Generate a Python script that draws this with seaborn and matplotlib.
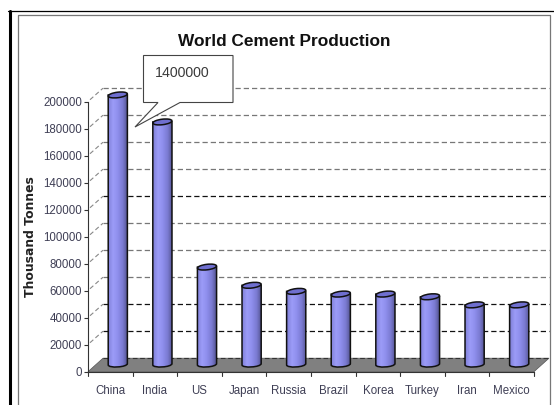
import numpy as np
import pandas as pd
import seaborn as sns
import matplotlib
matplotlib.use("Agg")
import matplotlib.pyplot as plt
from matplotlib.patches import Ellipse, Polygon, Rectangle, PathPatch
from matplotlib.path import Path
from matplotlib.lines import Line2D
from matplotlib.transforms import Affine2D
from matplotlib.colors import LinearSegmentedColormap

countries = ["China", "India", "US", "Japan", "Russia", "Brazil", "Korea", "Turkey", "Iran", "Mexico"]
production = [200000, 180000, 72500, 59000, 54500, 52500, 52500, 50500, 44500, 44500]
y_ticks = [0, 20000, 40000, 60000, 80000, 100000, 120000, 140000, 160000, 180000, 200000]
callout_text = "1400000"
title_text = "World Cement Production"
ylabel_text = "Thousand Tonnes"
grid_dark = [20000, 40000, 120000]

W, H = 554, 405
sns.set_theme(style="white")
plt.rcParams["font.family"] = ["Liberation Sans", "DejaVu Sans"]
fig = plt.figure(figsize=(W / 100, H / 100), dpi=100, facecolor="white")
L, R, T0, B0 = 88, 534, 101.7, 371.7
ax = fig.add_axes([L / W, 1 - B0 / H, (R - L) / W, (B0 - T0) / H])
df = pd.DataFrame({"country": countries, "production": production})
sns.barplot(data=df, x="country", y="production", ax=ax, width=0.43, color="#8080e0", saturation=1, zorder=5)
ax.set_xlim(-0.5, len(countries) - 0.5)
ax.set_ylim(0, max(y_ticks))
ax.set_facecolor("none")
for s in ["top", "right"]:
    ax.spines[s].set_visible(False)
for s in ["left", "bottom"]:
    ax.spines[s].set_color("#333333")
    ax.spines[s].set_linewidth(0.8)
    ax.spines[s].set_zorder(6)
ax.set_yticks(y_ticks)
ax.set_yticklabels([str(v) for v in y_ticks], fontsize=8.3, color="#3f3f55")
ax.set_xticks(np.arange(len(countries)))
ax.set_xticklabels(countries, fontsize=8.3, color="#3f3f55")
ax.tick_params(axis="y", length=3, width=0.8, color="#333333", pad=1.4, left=True)
ax.tick_params(axis="x", length=0, pad=9.5, bottom=False)
ax.set_xlabel("")
ax.set_ylabel("")

# pixel helper: image pixels -> display
tpx = Affine2D().scale(1, -1).translate(0, H)
DX, DY = 15, 13.5   # depth of the 3-D box, px

def to_px(x, y):
    d = ax.transData.transform((x, y))
    return d[0], H - d[1]

# floor
x0, y0 = to_px(-0.5, 0)
x1, _ = to_px(len(countries) - 0.5, 0)
ax.add_patch(Polygon([(x0, y0), (x1, y0), (x1 + DX, y0 - DY), (x0 + DX, y0 - DY)], closed=True,
                     transform=tpx, fc="#808080", ec="#555555", lw=0.5, zorder=1, clip_on=False))
# back grid and side diagonals
for v in y_ticks[1:]:
    _, yy = to_px(0, v)
    c = "#111111" if v in grid_dark else "#777777"
    ax.add_line(Line2D([x0 + DX, x1 + DX], [yy - DY, yy - DY], transform=tpx, color=c, lw=0.9,
                       ls=(0, (4.2, 2.4)), zorder=1, clip_on=False))
    ax.add_line(Line2D([x0 + 2, x0 + DX], [yy - 2, yy - DY], transform=tpx, color="#888888", lw=0.8,
                       ls=(0, (4, 2.5)), zorder=1, clip_on=False))
ax.add_line(Line2D([x0 + DX, x1 + DX], [y0 - DY, y0 - DY], transform=tpx, color="#333333", lw=0.8,
                   ls=(0, (4.2, 2.4)), zorder=2, clip_on=False))
# category separators on the x axis
for i in range(len(countries) + 1):
    xx, _ = to_px(i - 0.5, 0)
    ax.add_line(Line2D([xx, xx], [y0, y0 + 4], transform=tpx, color="#333333", lw=0.8, zorder=6, clip_on=False))

# cylinders from the seaborn bars
cmap = LinearSegmentedColormap.from_list("cyl", ["#8080d8", "#9c9cf8", "#8e8eec", "#7a7ad0", "#50508c"])
grad = np.linspace(0, 1, 64).reshape(1, -1)
ox, oy = DX / 2, DY / 2
for bar in list(ax.patches):
    if not isinstance(bar, Rectangle) or bar.get_height() <= 0:
        continue
    xa, h = bar.get_x(), bar.get_height()
    xb = xa + bar.get_width()
    pxa, ytop = to_px(xa, h)
    pxb, ybot = to_px(xb, 0)
    pxa += ox; pxb += ox; ytop -= oy; ybot -= oy
    bw = pxb - pxa
    bar.set_visible(False)
    elh = 5.5
    path = Path([(pxa, ytop), (pxa, ybot), (pxa, ybot + 3.4), (pxb, ybot + 2.4), (pxb, ybot - 1.4),
                 (pxb, ytop), (pxa, ytop)],
                [Path.MOVETO, Path.LINETO, Path.CURVE4, Path.CURVE4, Path.CURVE4, Path.LINETO, Path.CLOSEPOLY])
    body = PathPatch(path, transform=tpx, fc="none", ec="#111111", lw=1.1, zorder=7, clip_on=False)
    ax.add_patch(body)
    im = ax.imshow(grad, cmap=cmap, aspect="auto", zorder=6.5,
                   extent=(pxa, pxb, ybot + 4, ytop), transform=tpx)
    im.set_clip_box(fig.bbox)
    im.set_clip_path(body)
    ax.add_patch(Ellipse((pxa + bw / 2, ytop), bw, elh, angle=-7, transform=tpx, fc="#6f6fcf",
                         ec="#111111", lw=1.1, zorder=8, clip_on=False))
ax.set_xlim(-0.5, len(countries) - 0.5)
ax.set_ylim(0, max(y_ticks))

# texts
fig.text(284 / W, 1 - 41 / H, title_text, ha="center", va="center", fontsize=12.4, fontweight="bold", color="#111111")
fig.text(30 / W, 1 - 237 / H, ylabel_text, rotation=90, ha="center", va="center", fontsize=8.9,
         fontweight="bold", family="DejaVu Sans", color="#222222")

# callout
fig.add_artist(Polygon([(143.5, 55.5), (233, 55.5), (233, 102.5), (180, 102.5), (135, 127), (158, 102.5), (143.5, 102.5)],
                       closed=True, transform=tpx, fc="white", ec="#444444", lw=0.8, zorder=10))
fig.text(182 / W, 1 - 73 / H, callout_text, ha="center", va="center", fontsize=10.2, color="#3a3a3a", zorder=11)

# picture frames
fig.add_artist(Line2D([18, 18, 549.5, 549.5], [405, 14.5, 14.5, 405], transform=tpx, color="#777777", lw=0.9))
fig.add_artist(Line2D([9.5, 9.5], [10.5, 405], transform=tpx, color="#000000", lw=2.2))
fig.add_artist(Line2D([8, 554], [10.5, 10.5], transform=tpx, color="#000000", lw=0.9))

fig.savefig("out.png", dpi=100)
